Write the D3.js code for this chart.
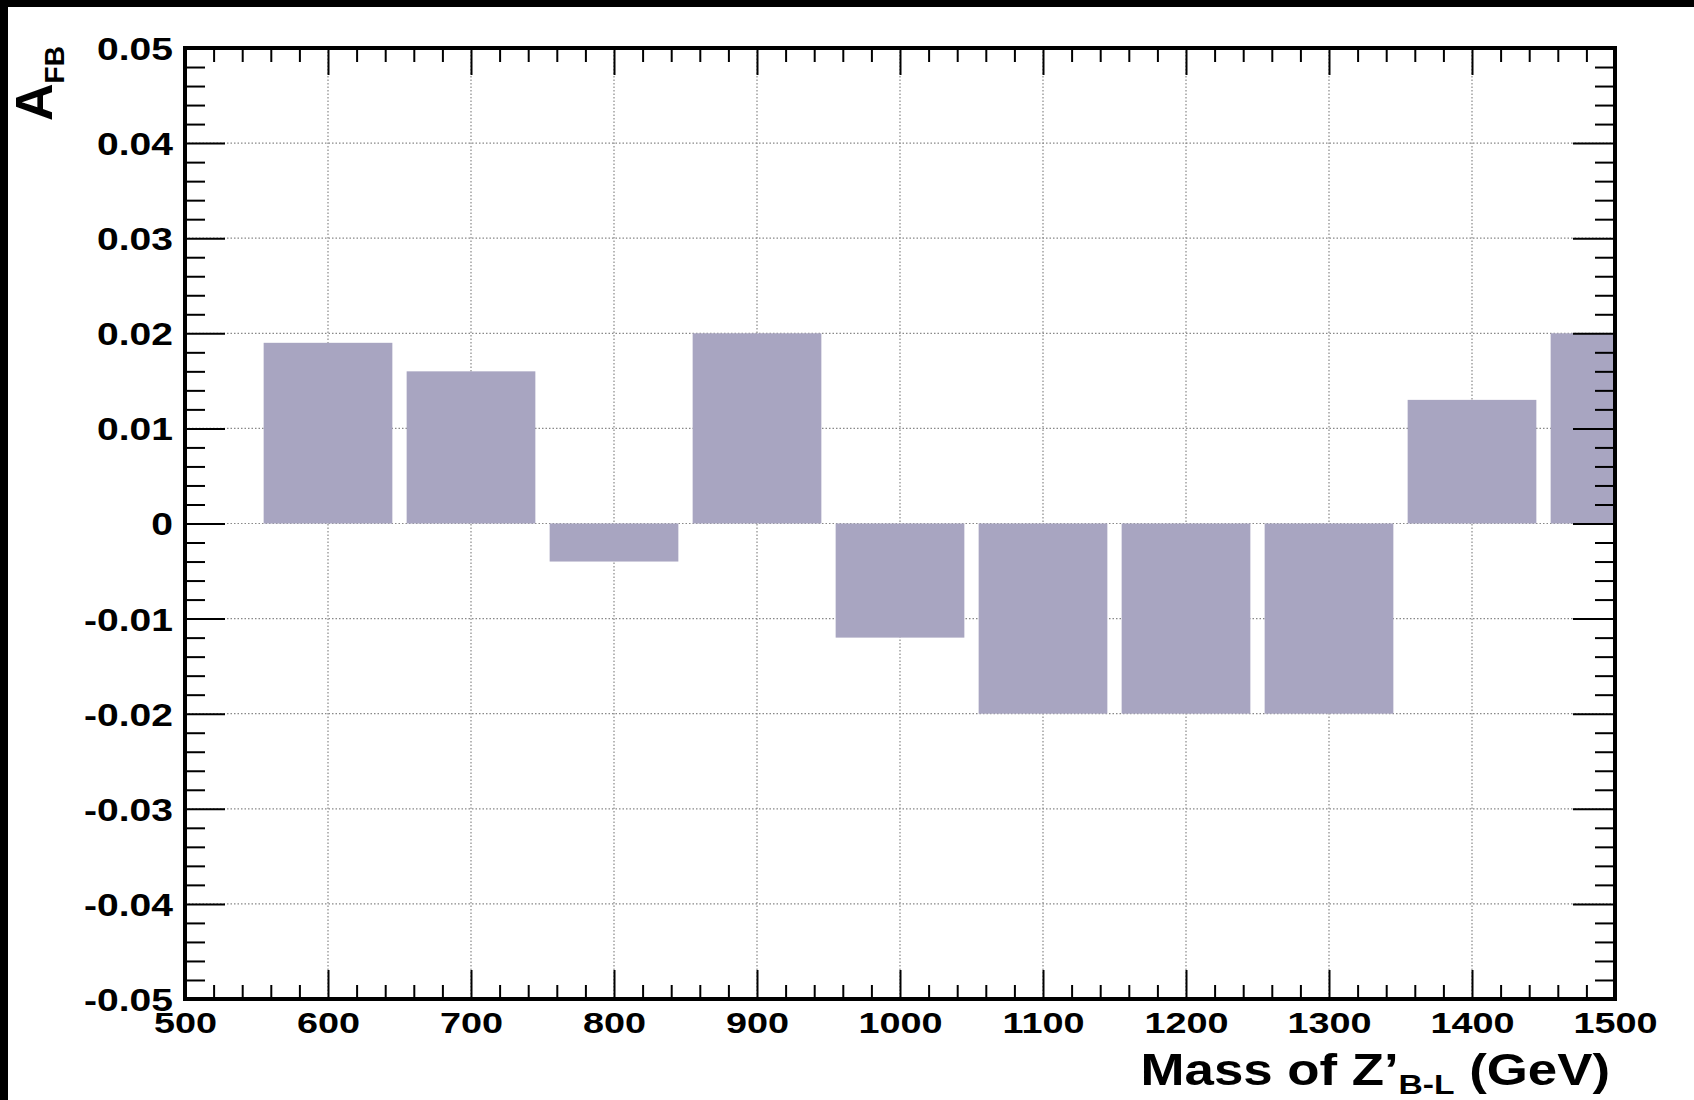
<!DOCTYPE html>
<html>
<head>
<meta charset="utf-8">
<script src="https://cdn.jsdelivr.net/npm/d3@7"></script>
<style>
  html, body { margin: 0; padding: 0; background: #fff; }
  svg { display: block; }
  text { font-family: "Liberation Sans", Arial, Helvetica, sans-serif; font-weight: bold; fill: #000; }
</style>
</head>
<body>
<script>
// Bin centres (GeV) and forward-backward asymmetry in each bin
const masses = [600, 700, 800, 900, 1000, 1100, 1200, 1300, 1400, 1500];
const afb    = [0.019, 0.016, -0.004, 0.020, -0.012, -0.020, -0.020, -0.020, 0.013, 0.020];

// Axis ticks and labels
const xMajor = [500, 600, 700, 800, 900, 1000, 1100, 1200, 1300, 1400, 1500];
const xLabels = ["500", "600", "700", "800", "900", "1000", "1100", "1200", "1300", "1400", "1500"];
const yMajor = [-0.05, -0.04, -0.03, -0.02, -0.01, 0, 0.01, 0.02, 0.03, 0.04, 0.05];
const yLabels = ["-0.05", "-0.04", "-0.03", "-0.02", "-0.01", "0", "0.01", "0.02", "0.03", "0.04", "0.05"];

const W = 1694, H = 1100;
const frame = { left: 185, right: 1615, top: 48, bottom: 999 };
const binWidth = 100, barFraction = 0.9;

const svg = d3.select("body").append("svg").attr("width", W).attr("height", H);

// page border
svg.append("rect").attr("x", 0).attr("y", 0).attr("width", W).attr("height", H).attr("fill", "#000");
svg.append("rect").attr("x", 8).attr("y", 7).attr("width", W - 8).attr("height", H - 7).attr("fill", "#fff");

const x = d3.scaleLinear().domain([500, 1500]).range([frame.left, frame.right]);
const y = d3.scaleLinear().domain([-0.05, 0.05]).range([frame.bottom, frame.top]);

const xMinor = d3.range(500, 1501, 20).filter(v => v % 100 !== 0);
const yMinor = d3.range(-50, 51, 2).filter(v => v % 10 !== 0).map(v => v / 1000);

// dotted grid
const grid = svg.append("g").attr("stroke", "#888").attr("stroke-width", 1.2).attr("stroke-dasharray", "1.5,2");
grid.selectAll("line.gx").data(xMajor.slice(1, -1)).join("line")
  .attr("x1", d => x(d)).attr("x2", d => x(d)).attr("y1", frame.top).attr("y2", frame.bottom);
grid.selectAll("line.gy").data(yMajor.slice(1, -1)).join("line")
  .attr("x1", frame.left).attr("x2", frame.right).attr("y1", d => y(d)).attr("y2", d => y(d));

// bars, clipped to the frame
svg.append("clipPath").attr("id", "plotArea").append("rect")
  .attr("x", frame.left).attr("y", frame.top)
  .attr("width", frame.right - frame.left).attr("height", frame.bottom - frame.top);
svg.append("g").attr("clip-path", "url(#plotArea)")
  .selectAll("rect").data(masses.map((m, i) => ({ m, v: afb[i] }))).join("rect")
  .attr("x", d => x(d.m - binWidth * barFraction / 2))
  .attr("width", d => x(d.m + binWidth * barFraction / 2) - x(d.m - binWidth * barFraction / 2))
  .attr("y", d => y(Math.max(0, d.v)))
  .attr("height", d => Math.abs(y(d.v) - y(0)))
  .attr("fill", "#a8a5c1");

// ticks on all four sides, pointing inward
function styleAxis(g) {
  g.select(".domain").remove();
  g.selectAll(".tick line").attr("stroke", "#000").attr("stroke-width", 2);
}
const LBL = 1.26; // horizontal stretch of tick labels

// bottom
svg.append("g").attr("transform", `translate(0,${frame.bottom})`)
  .call(d3.axisBottom(x).tickValues(xMinor).tickSize(-14).tickFormat(""))
  .call(styleAxis);
const xb = svg.append("g").attr("transform", `translate(0,${frame.bottom})`)
  .call(d3.axisBottom(x).tickValues(xMajor).tickSize(-29)
    .tickFormat((d, i) => xLabels[i]).tickPadding(13))
  .call(styleAxis);
xb.selectAll(".tick text").attr("font-size", 30).attr("font-family", null)
  .attr("transform", `scale(${LBL},1)`).attr("fill", "#000");

// top
svg.append("g").attr("transform", `translate(0,${frame.top})`)
  .call(d3.axisTop(x).tickValues(xMinor).tickSize(-14).tickFormat(""))
  .call(styleAxis);
svg.append("g").attr("transform", `translate(0,${frame.top})`)
  .call(d3.axisTop(x).tickValues(xMajor).tickSize(-27).tickFormat(""))
  .call(styleAxis);

// left
svg.append("g").attr("transform", `translate(${frame.left},0)`)
  .call(d3.axisLeft(y).tickValues(yMinor).tickSize(-20).tickFormat(""))
  .call(styleAxis);
const yl = svg.append("g").attr("transform", `translate(${frame.left},0)`)
  .call(d3.axisLeft(y).tickValues(yMajor).tickSize(-40)
    .tickFormat((d, i) => yLabels[i]).tickPadding(9.5))
  .call(styleAxis);
yl.selectAll(".tick text").attr("font-size", 31).attr("font-family", null)
  .attr("dy", "0.37em").attr("transform", `scale(${LBL},1)`).attr("fill", "#000");

// right
svg.append("g").attr("transform", `translate(${frame.right},0)`)
  .call(d3.axisRight(y).tickValues(yMinor).tickSize(-20).tickFormat(""))
  .call(styleAxis);
svg.append("g").attr("transform", `translate(${frame.right},0)`)
  .call(d3.axisRight(y).tickValues(yMajor).tickSize(-42).tickFormat(""))
  .call(styleAxis);

// frame
svg.append("rect")
  .attr("x", frame.left).attr("y", frame.top)
  .attr("width", frame.right - frame.left).attr("height", frame.bottom - frame.top)
  .attr("fill", "none").attr("stroke", "#000").attr("stroke-width", 4);

// x-axis title
const xt = svg.append("text")
  .attr("transform", "translate(1610,1085) scale(1.2,1)")
  .attr("text-anchor", "end").attr("font-size", 44);
xt.append("tspan").text("Mass of Z\u2019");
xt.append("tspan").attr("font-size", 28).attr("dy", 9).text("B-L");
xt.append("tspan").attr("dy", -9).text(" (GeV)");

// y-axis title
const yt = svg.append("text")
  .attr("transform", "translate(52,121) rotate(-90)")
  .attr("text-anchor", "start").attr("font-size", 52);
yt.append("tspan").text("A");
yt.append("tspan").attr("font-size", 28).attr("dy", 12).text("FB");
</script>
</body>
</html>
